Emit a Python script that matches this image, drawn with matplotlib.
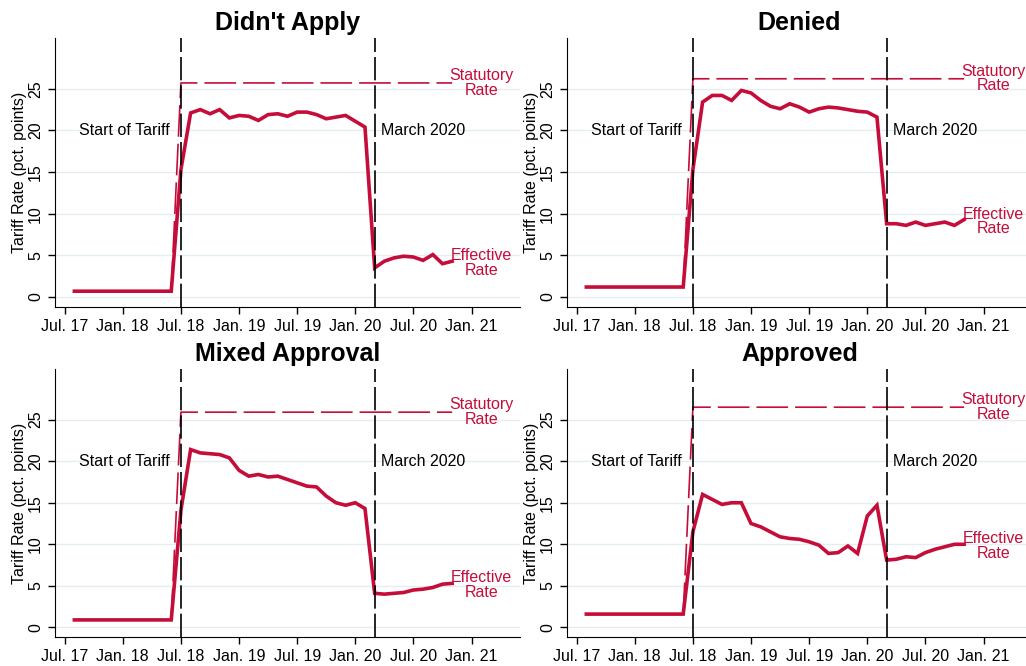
import numpy as np
import matplotlib
matplotlib.use("Agg")
import matplotlib.pyplot as plt

plt.rcParams['font.family'] = ['Liberation Sans', 'DejaVu Sans']

# months counted from Jul. 2017 (0) ; data runs Aug. 2017 .. Nov. 2020
months = np.arange(1, 41)
tick_pos = [0, 6, 12, 18, 24, 30, 36, 42]
tick_labels = ['Jul. 17', 'Jan. 18', 'Jul. 18', 'Jan. 19', 'Jul. 19', 'Jan. 20', 'Jul. 20', 'Jan. 21']
tariff_start = 12   # Jul. 2018
march_2020 = 32

titles = ["Didn't Apply", "Denied", "Mixed Approval", "Approved"]

eff_didnt_apply = [0.7] * 11 + [
    15.3, 22.1, 22.5, 22.0, 22.5, 21.5, 21.8, 21.7, 21.2, 21.9,
    22.0, 21.7, 22.2, 22.2, 21.9, 21.4, 21.6, 21.8, 21.1, 20.4,
    3.5, 4.3, 4.7, 4.9, 4.8, 4.4, 5.1, 4.0, 4.3]
eff_denied = [1.2] * 11 + [
    15.3, 23.4, 24.2, 24.2, 23.6, 24.8, 24.5, 23.6, 22.9, 22.6,
    23.2, 22.8, 22.2, 22.6, 22.8, 22.7, 22.5, 22.3, 22.2, 21.6,
    8.8, 8.8, 8.6, 9.0, 8.6, 8.8, 9.0, 8.6, 9.3]
eff_mixed = [0.9] * 11 + [
    14.1, 21.4, 21.0, 20.9, 20.8, 20.4, 18.9, 18.2, 18.4, 18.1,
    18.2, 17.8, 17.4, 17.0, 16.9, 15.8, 15.0, 14.7, 15.0, 14.3,
    4.1, 4.0, 4.1, 4.2, 4.5, 4.6, 4.8, 5.2, 5.3]
eff_approved = [1.6] * 11 + [
    11.5, 16.0, 15.4, 14.8, 15.0, 15.0, 12.5, 12.1, 11.5, 10.9,
    10.7, 10.6, 10.3, 9.9, 8.9, 9.0, 9.8, 8.9, 13.4, 14.7,
    8.1, 8.2, 8.5, 8.4, 9.0, 9.4, 9.7, 10.0, 10.0]
effective = [eff_didnt_apply, eff_denied, eff_mixed, eff_approved]
statutory = [25.7, 26.2, 25.9, 26.5]

red = '#c50d3a'
grid_col = '#e4edf0'

fig = plt.figure(figsize=(10.26, 6.66), dpi=100)
positions = [
    [0.0536, 0.539, 0.4532, 0.404],
    [0.5526, 0.539, 0.4532, 0.404],
    [0.0536, 0.043, 0.4532, 0.403],
    [0.5526, 0.043, 0.4532, 0.403],
]

for pos, title, eff, stat in zip(positions, titles, effective, statutory):
    ax = fig.add_axes(pos)
    eff = np.array(eff)

    for v in range(0, 30, 5):
        ax.axhline(v, color=grid_col, lw=1.0, zorder=0)

    # statutory rate: rises at the start of the tariff, then flat
    st_x = [11, 12, months[-1]]
    st_y = [eff[10], stat, stat]
    ax.plot(st_x, st_y, color=red, lw=1.2, dashes=(19, 4.2), zorder=2)

    ax.plot(months, eff, color=red, lw=2.6, solid_joinstyle='miter', zorder=3)

    for xv in (tariff_start, march_2020):
        ax.axvline(xv, color='black', lw=1.2, dashes=(14, 3), zorder=4)

    ax.text(tariff_start - 1.2, 20, 'Start of Tariff', ha='right', va='center', fontsize=11.5)
    ax.text(march_2020 + 0.7, 20, 'March 2020', ha='left', va='center', fontsize=11.5)
    ax.text(43, stat, 'Statutory\nRate', ha='center', va='center', color=red,
            fontsize=11.5, linespacing=0.95)
    ax.text(43, eff[-1] - 0.2, 'Effective\nRate', ha='center', va='center', color=red,
            fontsize=11.5, linespacing=0.95)

    ax.set_xlim(-1, 47)
    ax.set_ylim(-1.2, 31.1)
    ax.set_xticks(tick_pos)
    ax.set_xticklabels(tick_labels, fontsize=11.5)
    ax.set_yticks(range(0, 30, 5))
    ax.set_yticklabels([str(v) for v in range(0, 30, 5)], fontsize=11.5,
                       rotation=90, va='center')
    ax.tick_params(axis='both', length=5, width=1, color='black')
    ax.set_ylabel('Tariff Rate (pct. points)', fontsize=11.5, labelpad=1)
    ax.set_title(title, fontsize=18, fontweight='bold', pad=6)
    ax.spines['top'].set_visible(False)
    ax.spines['right'].set_visible(False)
    ax.set_facecolor('white')

fig.savefig('out.png', dpi=100)
